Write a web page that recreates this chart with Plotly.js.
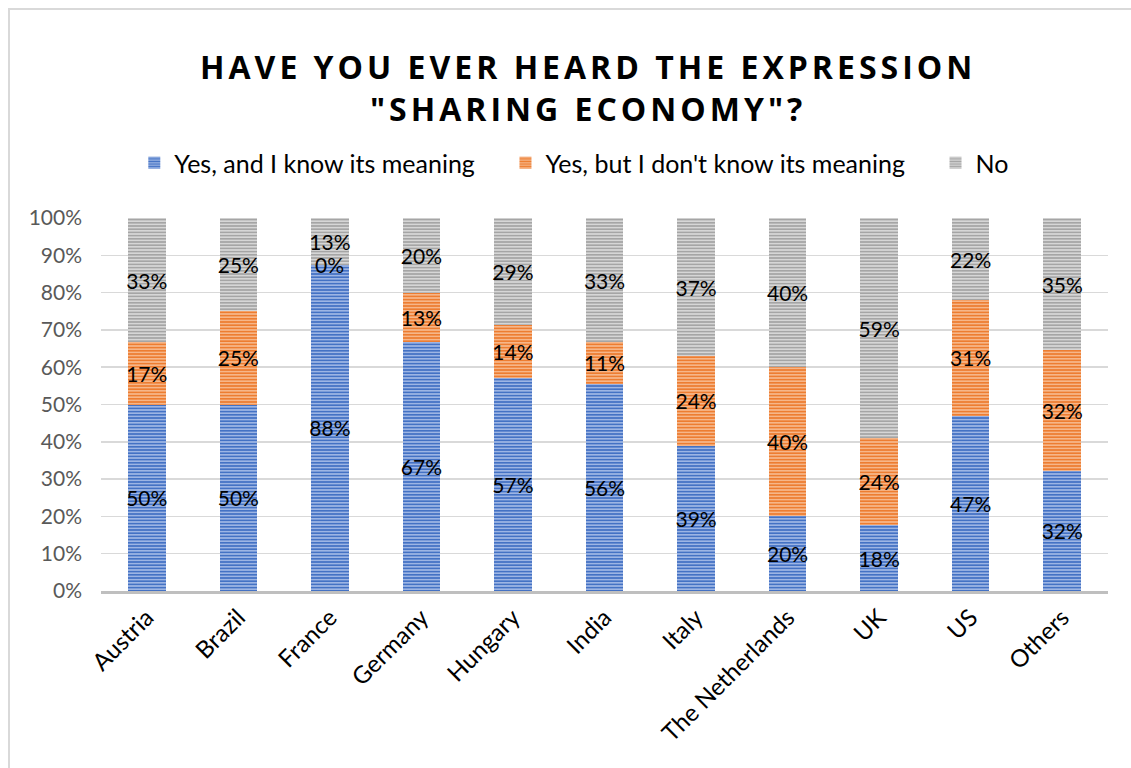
<!DOCTYPE html>
<html>
<head>
<meta charset="utf-8">
<script src="https://cdn.plot.ly/plotly-3.0.1.min.js"></script>
<style>
html,body{margin:0;padding:0;background:#fff;}
#chart{width:1131px;height:768px;}
</style>
</head>
<body>
<div id="chart"></div>
<script>
// Categories and series values (shares of respondents)
const countries = ["Austria","Brazil","France","Germany","Hungary","India","Italy","The Netherlands","UK","US","Others"];
const yesKnow   = [0.500, 0.50, 0.875, 0.667, 0.571, 0.556, 0.39, 0.20, 0.176, 0.47, 0.323];
const yesDont   = [0.167, 0.25, 0.000, 0.133, 0.143, 0.111, 0.24, 0.40, 0.235, 0.31, 0.323];
const noAnswer  = [0.333, 0.25, 0.125, 0.200, 0.286, 0.333, 0.37, 0.40, 0.588, 0.22, 0.354];
const seriesNames = ["Yes, and I know its meaning", "Yes, but I don't know its meaning", "No"];
const yTickVals = [0,0.1,0.2,0.3,0.4,0.5,0.6,0.7,0.8,0.9,1.0];

const FONT = "Lato, 'Noto Sans', sans-serif";
const styles = [
  {fg:"#4472C4", bg:"#A7BDE8"},
  {fg:"#ED7D31", bg:"#F7BC93"},
  {fg:"#A5A5A5", bg:"#DCDCDC"}
];
const seriesVals = [yesKnow, yesDont, noAnswer];
const pad = "\u00A0\u00A0\u00A0\u00A0";

const traces = seriesVals.map((vals, i) => ({
  type: "bar",
  name: seriesNames[i] + (i < seriesNames.length - 1 ? pad : ""),
  x: countries,
  y: vals,
  text: vals.map(v => Math.round(v*100) + "%"),
  texttemplate: "%{text}",
  textposition: "inside",
  textangle: 0,
  insidetextanchor: "middle",
  constraintext: "none",
  insidetextfont: {family: FONT, size: 21, color: "#000"},
  textfont: {family: FONT, size: 21, color: "#000"},
  marker: {
    color: styles[i].bg,
    line: {width: 0},
    pattern: {shape: "-", fgcolor: styles[i].fg, bgcolor: styles[i].bg, size: 3.2, solidity: 0.55}
  },
  hoverinfo: "x+y+name"
}));

// Labels for zero-height segments (cannot be drawn inside a zero-height bar)
const annotations = [];
yesDont.forEach((v, k) => {
  if (v === 0) {
    annotations.push({x: countries[k], y: yesKnow[k] + v, xref: "x", yref: "y",
      text: Math.round(v*100) + "%", showarrow: false, yanchor: "middle",
      font: {family: FONT, size: 21, color: "#000"}});
  }
});

const layout = {
  width: 1131, height: 768,
  margin: {l: 101, r: 23, t: 218, b: 177},
  paper_bgcolor: "#fff", plot_bgcolor: "#fff",
  barmode: "stack",
  bargap: 0.59,
  title: {
    text: "HAVE YOU EVER HEARD THE EXPRESSION<br>\"SHARING ECONOMY\"?",
    font: {family: "'Open Sans', sans-serif", size: 32, color: "#000", weight: 700},
    x: 0.52, xanchor: "center", xref: "container",
    y: 1 - 79/768, yanchor: "middle", yref: "container"
  },
  legend: {
    orientation: "h",
    x: 0.470, xanchor: "center", xref: "paper",
    y: 1 - 163/768, yanchor: "middle", yref: "container",
    font: {family: FONT, size: 25, color: "#000"},
    itemwidth: 30,
    traceorder: "normal"
  },
  xaxis: {
    type: "category",
    tickangle: -45,
    tickfont: {family: FONT, size: 24, color: "#000"},
    showline: true, linecolor: "#BFBFBF", linewidth: 3,
    showgrid: false, ticks: "",
    fixedrange: true
  },
  yaxis: {
    range: [0, 1],
    tickvals: yTickVals,
    tickformat: ".0%",
    tickfont: {family: FONT, size: 21, color: "#595959"},
    gridcolor: "#D9D9D9", gridwidth: 1.5,
    zeroline: false, showline: false, ticks: "",
    ticklabelstandoff: 18,
    fixedrange: true
  },
  annotations: annotations,
  shapes: [{
    type: "rect", xref: "paper", yref: "paper", layer: "below",
    x0: (9-101)/1007, x1: (1140-101)/1007,
    y0: (591-780)/373, y1: (591-9)/373,
    line: {color: "#D9D9D9", width: 2}, fillcolor: "rgba(0,0,0,0)"
  }]
};

Plotly.newPlot("chart", traces, layout, {displayModeBar: false, staticPlot: true}).then(() => {
  document.querySelectorAll(".gtitle").forEach(el => { el.style.letterSpacing = "4px"; });
});
</script>
</body>
</html>
